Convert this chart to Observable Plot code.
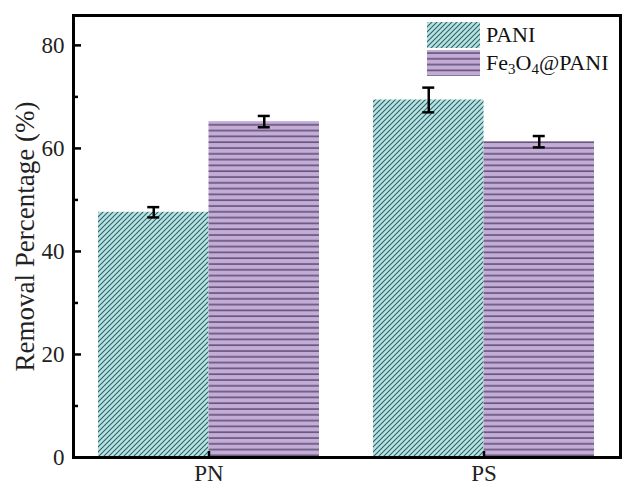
<!DOCTYPE html>
<html>
<head>
<meta charset="utf-8">
<script src="https://cdn.jsdelivr.net/npm/d3@7"></script>
<script src="https://cdn.jsdelivr.net/npm/@observablehq/plot@0.6"></script>
<style>
  html, body { margin: 0; padding: 0; background: #fff; }
  #wrap { position: relative; width: 622px; height: 486px; font-family: "Liberation Serif", "Times New Roman", serif; }
  #chart svg text { font-family: "Liberation Serif", "Times New Roman", serif; }
  #legend { position: absolute; left: 427px; top: 21px; font-size: 22px; color: #111; }
  .item { display: flex; align-items: center; height: 28px; }
  .item svg { display: block; margin-right: 6px; }
  sub { font-size: 15px; vertical-align: -4px; line-height: 0; }
</style>
</head>
<body>
<svg width="0" height="0" style="position:absolute">
  <defs>
    <pattern id="hatchPani" patternUnits="userSpaceOnUse" width="5" height="5">
      <rect width="5" height="5" fill="#b6e4e6"></rect>
      <path d="M0,5 L5,0 M-1,1 L1,-1 M4,6 L6,4" stroke="#33605f" stroke-width="1.1"></path>
    </pattern>
    <pattern id="hatchFe" patternUnits="userSpaceOnUse" width="6" height="5.8">
      <rect width="6" height="5.8" fill="#c3add7"></rect>
      <rect y="2.3" width="6" height="1.4" fill="#564469"></rect>
    </pattern>
  </defs>
</svg>
<div id="wrap">
  <div id="chart"></div>
  <div id="legend">
    <div class="item"><svg width="53" height="26"><rect width="53" height="26" fill="url(#hatchPani)"></rect></svg><span>PANI</span></div>
    <div class="item"><svg width="53" height="26"><rect width="53" height="26" fill="url(#hatchFe)"></rect></svg><span>Fe<sub>3</sub>O<sub>4</sub>@PANI</span></div>
  </div>
</div>
<script>
const categories = ["PN", "PS"];
const paniValues = [47.6, 69.4];
const paniErrors = [1.0, 2.4];
const feValues = [65.2, 61.3];
const feErrors = [1.1, 1.1];
const yTicks = [0, 20, 40, 60, 80];
const yMinorTicks = [10, 30, 50, 70];
const yLabel = "Removal Percentage (%)";

const pani = categories.map((c, i) => ({category: c, value: paniValues[i], lo: paniValues[i] - paniErrors[i], hi: paniValues[i] + paniErrors[i]}));
const fe = categories.map((c, i) => ({category: c, value: feValues[i], lo: feValues[i] - feErrors[i], hi: feValues[i] + feErrors[i]}));

const W = 622, H = 486, mL = 73, mR = 2, mT = 15, mB = 29;
const frameW = W - mL - mR, frameH = H - mT - mB;
const bw = 221, half = bw / 2, capW = 12;

const chart = Plot.plot({
  width: W,
  height: H,
  marginLeft: mL,
  marginRight: mR,
  marginTop: mT,
  marginBottom: mB,
  style: {background: "transparent", color: "#111"},
  x: {type: "band", domain: categories, paddingInner: 0.196, paddingOuter: 0.0925, axis: null},
  y: {domain: [0, 85.8], axis: null},
  marks: [
    Plot.barY(pani, {x: "category", y: "value", fill: "url(#hatchPani)", insetRight: half}),
    Plot.barY(fe, {x: "category", y: "value", fill: "url(#hatchFe)", insetLeft: half}),
    Plot.ruleX(pani, {x: "category", y1: "lo", y2: "hi", dx: -half / 2, stroke: "#000", strokeWidth: 2.5}),
    Plot.ruleX(fe, {x: "category", y1: "lo", y2: "hi", dx: half / 2, stroke: "#000", strokeWidth: 2.5}),
    Plot.tickY(pani, {x: "category", y: "lo", insetLeft: half / 2 - capW / 2, insetRight: bw - half / 2 - capW / 2, stroke: "#000", strokeWidth: 2.5}),
    Plot.tickY(pani, {x: "category", y: "hi", insetLeft: half / 2 - capW / 2, insetRight: bw - half / 2 - capW / 2, stroke: "#000", strokeWidth: 2.5}),
    Plot.tickY(fe, {x: "category", y: "lo", insetLeft: bw - half / 2 - capW / 2, insetRight: half / 2 - capW / 2, stroke: "#000", strokeWidth: 2.5}),
    Plot.tickY(fe, {x: "category", y: "hi", insetLeft: bw - half / 2 - capW / 2, insetRight: half / 2 - capW / 2, stroke: "#000", strokeWidth: 2.5}),
    Plot.tickY(yTicks, {y: d => d, insetRight: frameW - 8, stroke: "#000", strokeWidth: 2.5}),
    Plot.tickY(yMinorTicks, {y: d => d, insetRight: frameW - 5, stroke: "#000", strokeWidth: 2.5}),
    Plot.tickX(categories, {x: d => d, insetTop: frameH - 6, stroke: "#000", strokeWidth: 2.5}),
    Plot.frame({stroke: "#000", strokeWidth: 3}),
    Plot.axisY({ticks: yTicks, tickSize: 0, tickPadding: 9, label: null, fill: "#222", fontSize: 23}),
    Plot.axisX({tickSize: 0, tickPadding: 7, label: null, fill: "#222", fontSize: 23}),
    Plot.text([yLabel], {frameAnchor: "left", textAnchor: "middle", dx: -48, dy: 0, rotate: -90, fontSize: 27, fill: "#222"})
  ]
});
document.getElementById("chart").appendChild(chart);
</script>
</body>
</html>
